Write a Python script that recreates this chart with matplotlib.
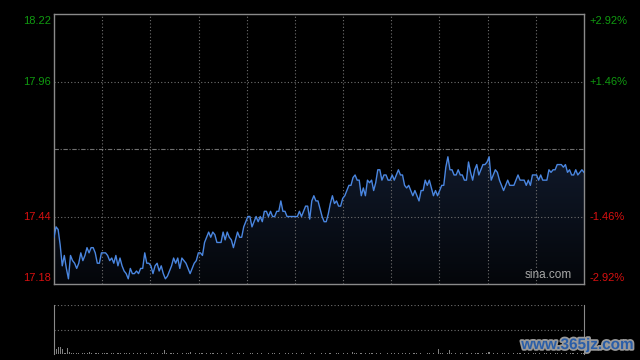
import numpy as np
import matplotlib
matplotlib.use("Agg")
import matplotlib.pyplot as plt
import matplotlib.patheffects as pe
from matplotlib.patches import Polygon

# intraday price readings, one per ~minute
price = [
    17.36, 17.40, 17.39, 17.33, 17.25, 17.29, 17.24, 17.20, 17.29, 17.27,
    17.26, 17.24, 17.26, 17.30, 17.27, 17.29, 17.32, 17.30, 17.32, 17.32,
    17.30, 17.26, 17.26, 17.30, 17.30, 17.30, 17.29, 17.27, 17.28, 17.26,
    17.29, 17.25, 17.28, 17.25, 17.23, 17.22, 17.20, 17.24, 17.22, 17.22,
    17.23, 17.22, 17.24, 17.24, 17.30, 17.26, 17.26, 17.25, 17.22, 17.25,
    17.26, 17.23, 17.25, 17.22, 17.20, 17.21, 17.23, 17.25, 17.28, 17.26,
    17.28, 17.24, 17.28, 17.27, 17.26, 17.24,
    17.22, 17.24, 17.26, 17.27, 17.30, 17.30, 17.29, 17.34, 17.36, 17.38,
    17.36, 17.38, 17.37, 17.34, 17.34, 17.34, 17.38, 17.35, 17.38, 17.36,
    17.35, 17.32, 17.35, 17.38, 17.36, 17.36, 17.40, 17.42, 17.44, 17.44,
    17.40, 17.42, 17.44, 17.42, 17.44, 17.42, 17.46, 17.46, 17.44, 17.46,
    17.44, 17.44, 17.46, 17.46, 17.50, 17.46, 17.46, 17.44, 17.44, 17.44,
    17.44, 17.44, 17.44, 17.46, 17.44, 17.46, 17.48, 17.48, 17.43, 17.50,
    17.52, 17.50, 17.50, 17.47, 17.44,
    17.42, 17.42, 17.45, 17.49, 17.52, 17.49, 17.50, 17.48, 17.48, 17.51,
    17.52, 17.54, 17.56, 17.56, 17.59, 17.60, 17.58, 17.58, 17.52, 17.55,
    17.52, 17.58, 17.57, 17.58, 17.54, 17.57, 17.62, 17.62, 17.58, 17.60,
    17.60, 17.58, 17.58, 17.60, 17.58, 17.60, 17.62, 17.60, 17.60, 17.56,
    17.55, 17.56, 17.54, 17.52, 17.54, 17.52, 17.50, 17.54, 17.54, 17.58,
    17.56, 17.58, 17.55, 17.52, 17.54, 17.52, 17.54, 17.56, 17.56, 17.63,
    17.67, 17.62,
    17.62, 17.60, 17.60, 17.62, 17.60, 17.60, 17.58, 17.58, 17.65, 17.61,
    17.58, 17.62, 17.64, 17.60, 17.62, 17.64, 17.64, 17.65, 17.67, 17.58,
    17.60, 17.62, 17.61, 17.58, 17.56, 17.54, 17.56, 17.58, 17.56, 17.56,
    17.56, 17.58, 17.60, 17.58, 17.58, 17.58, 17.56, 17.58, 17.56, 17.60,
    17.60, 17.60, 17.58, 17.60, 17.58, 17.58, 17.58, 17.62, 17.61, 17.62,
    17.62, 17.64, 17.64, 17.64, 17.63, 17.64, 17.61, 17.62, 17.60, 17.60,
    17.62, 17.60, 17.61, 17.62, 17.61,
]

# volume per minute (relative units, panel top = 100)
volume = [
    29, 10, 14, 14, 10, 3, 12, 4, 2, 3, 2, 2, 1, 2, 3, 2, 4, 2, 1, 2,
    2, 1, 3, 2, 2, 1, 2, 3, 1, 2, 2, 1, 2, 2, 3, 1, 2, 1, 2, 2,
    1, 2, 2, 1, 3, 2, 1, 2, 1, 2, 8, 2, 1, 2, 2, 1, 2, 1, 3, 1,
    2, 2, 4, 1, 2, 1, 2, 2, 1, 2, 1, 2, 3, 1, 2, 1, 2, 1, 2, 1,
    1, 2, 1, 2, 2, 1, 2, 1, 1, 2, 2, 1, 2, 1, 2, 1, 1, 2, 1, 2,
    2, 1, 2, 1, 1, 2, 3, 1, 2, 1, 2, 1, 2, 2, 1, 1, 2, 1, 2, 1,
    1, 2, 1, 2, 1, 2, 1, 1, 2, 2, 1, 2, 1, 2, 1, 4, 2, 3, 1, 2,
    1, 2, 1, 2, 2, 1, 2, 1, 2, 1, 1, 2, 1, 2, 2, 1, 2, 1, 2, 3,
    1, 2, 1, 2, 2, 1, 2, 1, 1, 2, 2, 1, 2, 1, 10, 2, 3, 1, 2, 8,
    2, 1, 2, 1, 2, 2, 1, 2, 1, 2, 1, 2, 2, 1, 2, 1, 2, 4, 1, 2,
    1, 2, 1, 2, 2, 1, 2, 1, 2, 1, 2, 2, 1, 2, 1, 2, 1, 2, 2, 1,
    2, 1, 2, 2, 1, 2, 1, 2, 2, 1, 2, 1, 2, 1, 2, 2, 1, 2, 1, 2, 3,
]

prev_close = 17.70
y_low, y_high = 17.18, 18.22
left_labels = ["18.22", "17.96", "17.44", "17.18"]
left_values = [18.22, 17.96, 17.44, 17.18]
right_labels = ["+2.92%", "+1.46%", "-1.46%", "-2.92%"]

GREEN = "#109a10"
RED = "#d81010"
GRID = "#707070"
FRAME = "#8a8a8a"
LINE = "#4a86e0"

plt.rcParams["font.family"] = ["Liberation Sans", "DejaVu Sans"]

fig = plt.figure(figsize=(6.4, 3.6), dpi=100, facecolor="black")
ax = fig.add_axes([54 / 640, 1 - 284 / 360, 530 / 640, 270 / 360], facecolor="black")
vax = fig.add_axes([54 / 640, 1 - 354 / 360, 530 / 640, 49 / 360], facecolor="black")

minutes = np.linspace(0, 240, len(price))
ax.set_xlim(0, 240)
ax.set_ylim(y_low, y_high)

# gradient fill under the price line
verts = [(minutes[0], y_low)] + list(zip(minutes, price)) + [(minutes[-1], y_low)]
clip = Polygon(verts, closed=True, facecolor="none", edgecolor="none")
ax.add_patch(clip)
grad = np.linspace(1, 0, 256).reshape(-1, 1)
top_c = np.array([16, 25, 42]) / 255
bot_c = np.array([4, 6, 10]) / 255
img = top_c * grad[..., None] + bot_c * (1 - grad[..., None])
im = ax.imshow(img, extent=[0, 240, y_low, max(price)], aspect="auto",
               origin="upper", zorder=1)
im.set_clip_path(clip)

# grid
for k in range(1, 11):
    ax.axvline(240 * k / 11, color=GRID, lw=0.8, ls=(0, (1, 2)), zorder=2)
for v in left_values[1:3]:
    ax.axhline(v, color=GRID, lw=0.8, ls=(0, (1, 2)), zorder=2)
ax.axhline(prev_close, color=GRID, lw=0.8, ls=(0, (4, 1.5, 1, 1.5)), zorder=2)

ax.plot(minutes, price, color=LINE, lw=1.0, zorder=3)

ax.set_xticks([])
ax.set_yticks([])
for s in ax.spines.values():
    s.set_color(FRAME)
    s.set_linewidth(1.0)

trans = ax.get_yaxis_transform()
vas = ["top", "center", "center", "bottom"]
nudge = [-0.008, 0, 0, 0.004]
for i, (lab, rlab, v) in enumerate(zip(left_labels, right_labels, left_values)):
    color = GREEN if v > prev_close else RED
    ax.text(-0.006, v + nudge[i], lab, transform=trans, ha="right", va=vas[i],
            color=color, fontsize=8, clip_on=False)
    ax.text(1.011, v + nudge[i], rlab, transform=trans, ha="left", va=vas[i],
            color=color, fontsize=8, clip_on=False)

ax.text(0.978, 0.012, "sina.com", transform=ax.transAxes, ha="right", va="bottom",
        color="#a8a8a8", fontsize=8.5, zorder=4)

# volume panel
vax.bar(np.arange(len(volume)), volume, width=0.5, color="#808080", linewidth=0)
vax.set_xlim(0, 240)
vax.set_ylim(0, 100)
vax.axhline(100, color=GRID, lw=0.8, ls=(0, (1, 2)))
vax.axhline(50, color=GRID, lw=0.8, ls=(0, (1, 2)))
vax.set_xticks([])
vax.set_yticks([])
for name, s in vax.spines.items():
    s.set_color(FRAME)
    s.set_visible(name in ("left", "right"))

fig.text(0.99, 1 - 345 / 360, "www.365jz.com", ha="right", va="center",
         color="#2a5ea8", fontsize=11, fontweight="bold",
         path_effects=[pe.withStroke(linewidth=2.5, foreground="#9a9a9a")])

fig.savefig("out.png", dpi=100, facecolor="black")
